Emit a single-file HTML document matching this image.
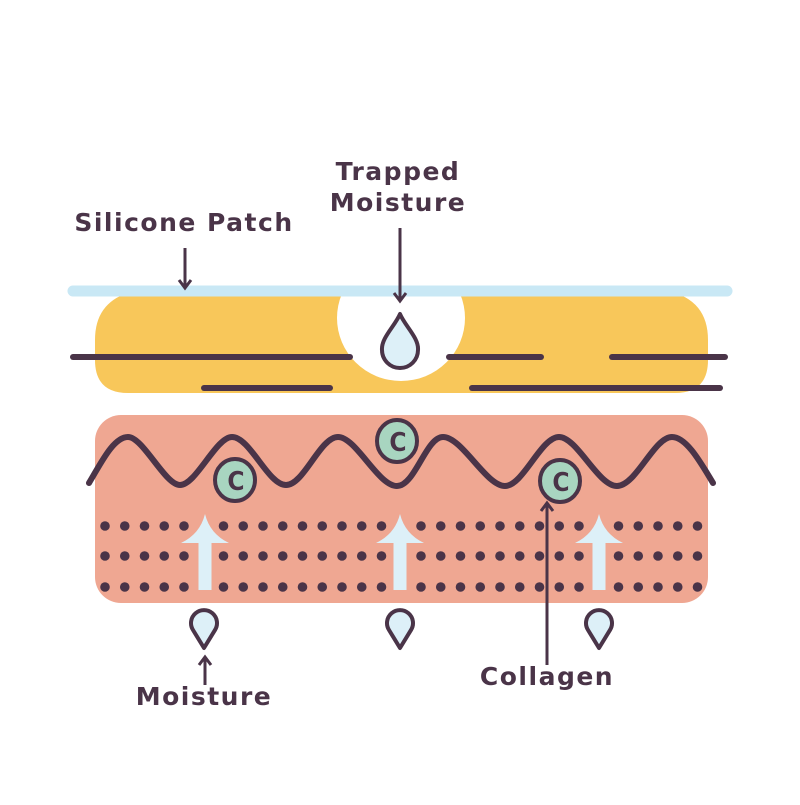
<!DOCTYPE html>
<html><head><meta charset="utf-8"><style>
html,body{margin:0;padding:0;background:#fff}
text{font-family:"DejaVu Sans","Liberation Sans",sans-serif;font-weight:bold;fill:#4A3448;letter-spacing:1.5px}
</style></head><body>
<svg width="800" height="800" viewBox="0 0 800 800" xmlns="http://www.w3.org/2000/svg">
<defs>
<g id="arr"><path d="M0,-28 Q5,-8 24,1 L6.5,1 L6.5,48 L-6.5,48 L-6.5,1 L-24,1 Q-5,-8 0,-28Z" fill="#DDF0F8"/></g>
<g id="drop"><path d="M0,21 L-11,3 A13,13 0 1 1 11,3 Z" fill="#DDF0F8" stroke="#4A3448" stroke-width="4" stroke-linejoin="round"/></g>
</defs>
<!-- patch -->
<path d="M135,291 L668,291 Q708,300 708,340 L708,360 Q708,393 675,393 L128,393 Q95,393 95,360 L95,340 Q95,300 135,291Z" fill="#F8C75A"/>
<ellipse cx="401" cy="318" rx="64" ry="63" fill="#fff"/>
<line x1="73" y1="291" x2="727" y2="291" stroke="#C9E8F5" stroke-width="11" stroke-linecap="round"/>
<g stroke="#4A3448" stroke-width="6" stroke-linecap="round">
<line x1="73" y1="357" x2="350" y2="357"/>
<line x1="449" y1="357" x2="541" y2="357"/>
<line x1="612" y1="357" x2="725" y2="357"/>
<line x1="204" y1="388" x2="330" y2="388"/>
<line x1="472" y1="388" x2="720" y2="388"/>
</g>
<path d="M400,314 C405,326 419,338 418,350 A18,18 0 0 1 382,350 C381,338 395,326 400,314Z" fill="#DDF0F8" stroke="#4A3448" stroke-width="4" stroke-linejoin="round"/>
<!-- labels top -->
<text x="184" y="231" font-size="25" text-anchor="middle">Silicone Patch</text>
<text x="398" y="180" font-size="25" text-anchor="middle">Trapped</text>
<text x="398" y="211" font-size="25" text-anchor="middle">Moisture</text>
<g stroke="#4A3448" stroke-width="3" fill="none">
<line x1="185" y1="248" x2="185" y2="287"/><polyline points="179,280 185,288 191,280"/>
<line x1="400" y1="228" x2="400" y2="300"/><polyline points="394,293 400,301 406,293"/>
</g>
<!-- skin -->
<rect x="95" y="415" width="613" height="188" rx="26" fill="#EFA792"/>
<path d="M89,483 C100,465 113,437 128,437 C143,437 165,485 180,485 C196,485 216,437 232,437 C250,437 268,485 286,485 C304,485 320,437 338,437 C356,437 378,486 397,486 C415,486 426,437 443,437 C462,437 486,486 505,486 C523,486 541,437 559,437 C577,437 598,486 617,486 C636,486 654,437 672,437 C687,437 702,465 713,483" fill="none" stroke="#4A3448" stroke-width="6" stroke-linecap="round" stroke-linejoin="round"/>
<g fill="#A8D5C0" stroke="#4A3448" stroke-width="4">
<ellipse cx="235" cy="480" rx="20" ry="21"/>
<ellipse cx="397" cy="441" rx="20" ry="21"/>
<ellipse cx="560" cy="481" rx="20" ry="21"/>
</g>
<g font-size="26" text-anchor="middle">
<text x="236" y="490" style="font-family:'DejaVu Sans Condensed','DejaVu Sans',sans-serif;font-weight:bold;letter-spacing:0">C</text>
<text x="398" y="451" style="font-family:'DejaVu Sans Condensed','DejaVu Sans',sans-serif;font-weight:bold;letter-spacing:0">C</text>
<text x="561" y="491" style="font-family:'DejaVu Sans Condensed','DejaVu Sans',sans-serif;font-weight:bold;letter-spacing:0">C</text>
</g>
<g fill="#4A3448" id="dots"></g>
<use href="#arr" x="205" y="542"/>
<use href="#arr" x="400" y="542"/>
<use href="#arr" x="599" y="542"/>
<use href="#drop" x="204" y="627"/>
<use href="#drop" x="400" y="627"/>
<use href="#drop" x="599" y="627"/>
<g stroke="#4A3448" stroke-width="3" fill="none">
<line x1="205" y1="685" x2="205" y2="658"/><polyline points="199,665 205,657 211,665"/>
<line x1="547" y1="665" x2="547" y2="503"/><polyline points="541,511 547,503 553,511"/>
</g>
<text x="204" y="705" font-size="25" text-anchor="middle">Moisture</text>
<text x="547" y="685" font-size="25" text-anchor="middle">Collagen</text>
</svg>
<script>
var g=document.getElementById('dots'),ns='http://www.w3.org/2000/svg';
[526,556,587].forEach(function(y){for(var i=0;i<31;i++){var x=105+i*19.75;if(Math.abs(x-205)<15||Math.abs(x-400)<15||Math.abs(x-599)<15)continue;var c=document.createElementNS(ns,'circle');c.setAttribute('cx',x);c.setAttribute('cy',y);c.setAttribute('r',4.8);g.appendChild(c);}});
</script>
</body></html>
